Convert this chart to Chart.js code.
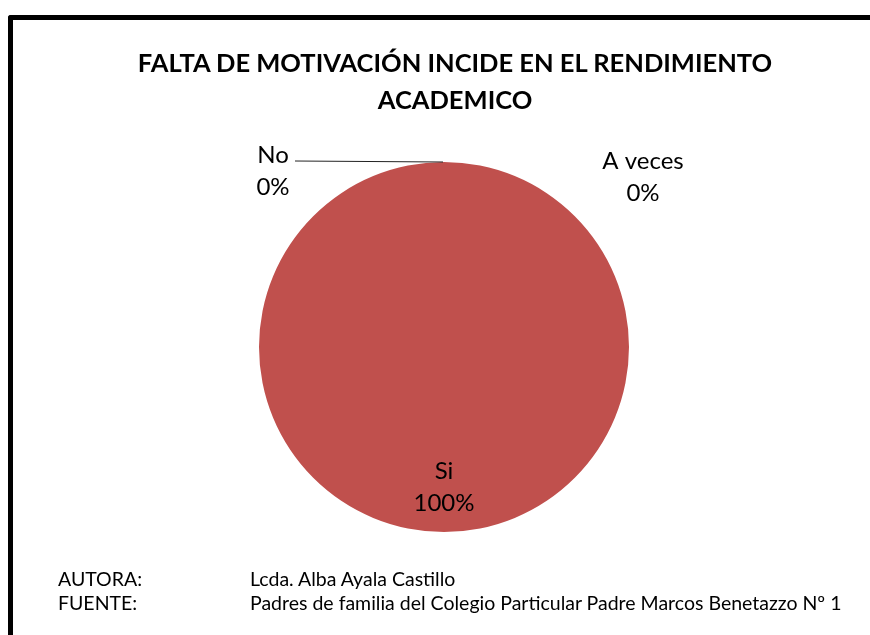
<!DOCTYPE html>
<html>
<head>
<meta charset="utf-8">
<script src="https://cdn.jsdelivr.net/npm/chart.js@4/dist/chart.umd.min.js"></script>
<style>
  body { margin: 0; width: 870px; height: 635px; overflow: hidden; background: #fff; position: relative; font-family: Lato, "Open Sans", sans-serif; }
  #frame { position: absolute; left: 8px; top: 15px; width: 1000px; height: 1000px; border-left: 5px solid #000; border-top: 5px solid #000; border-top-left-radius: 3px; }
  #title { position: absolute; left: 0; top: 44px; width: 910px; text-align: center; font-weight: bold; font-size: 25.5px; line-height: 37px; color: #000; }
  #foot { position: absolute; left: 58px; top: 567px; font-size: 19.5px; line-height: 24px; color: #000; }
  #foot span { display: inline-block; width: 192px; }
  canvas { position: absolute; left: 0; top: 0; }
</style>
</head>
<body>
<div id="frame"></div>
<canvas id="chart" width="870" height="635"></canvas>
<div id="title">FALTA DE MOTIVACIÓN INCIDE EN EL RENDIMIENTO<br>ACADEMICO</div>
<div id="foot">
  <div><span>AUTORA:</span>Lcda. Alba Ayala Castillo</div>
  <div><span>FUENTE:</span>Padres de familia del Colegio Particular Padre Marcos Benetazzo Nº 1</div>
</div>
<script>
// data
const categories = ["Si", "No", "A veces"];
const values     = [100, 0, 0];
const colors     = ["#C0504D", "#4F81BD", "#9BBB59"];

const total = values.reduce((a, b) => a + b, 0);

// label placement for each slice (offset from anchor point)
const labelPlace = [
  { radius: 0.76, dx: 0,    dy: 0,  line: false },
  { radius: 1,    dx: -171, dy: 9,  line: true, lineEnd: -149 },
  { radius: 1,    dx: 199,  dy: 15, line: false }
];

const pieLabels = {
  id: "pieLabels",
  afterDatasetsDraw(chart) {
    const ctx = chart.ctx;
    const meta = chart.getDatasetMeta(0);
    ctx.save();
    ctx.font = "24px Lato, 'Open Sans', sans-serif";
    ctx.fillStyle = "#000";
    ctx.textAlign = "center";
    ctx.textBaseline = "middle";
    meta.data.forEach((arc, i) => {
      const p = arc.getProps(["x", "y", "startAngle", "endAngle", "outerRadius"], true);
      const mid = (p.startAngle + p.endAngle) / 2;
      const pl = labelPlace[i];
      const ax = p.x + Math.cos(mid) * p.outerRadius * pl.radius;
      const ay = p.y + Math.sin(mid) * p.outerRadius * pl.radius;
      if (pl.line) {
        ctx.strokeStyle = "#222";
        ctx.lineWidth = 1;
        ctx.beginPath();
        ctx.moveTo(ax - 1, ay);
        ctx.lineTo(ax + pl.lineEnd, ay - 1);
        ctx.stroke();
      }
      const pct = Math.round(values[i] / total * 100) + "%";
      ctx.fillText(categories[i], ax + pl.dx, ay + pl.dy - 16);
      ctx.fillText(pct, ax + pl.dx, ay + pl.dy + 16);
    });
    ctx.restore();
  }
};

new Chart(document.getElementById("chart").getContext("2d"), {
  type: "pie",
  data: {
    labels: categories,
    datasets: [{
      data: values,
      backgroundColor: colors,
      borderWidth: 0
    }]
  },
  options: {
    responsive: false,
    animation: false,
    layout: { padding: { top: 162, bottom: 103, left: 18, right: 0 } },
    plugins: {
      legend: { display: false },
      tooltip: { enabled: false }
    }
  },
  plugins: [pieLabels]
});
</script>
</body>
</html>
